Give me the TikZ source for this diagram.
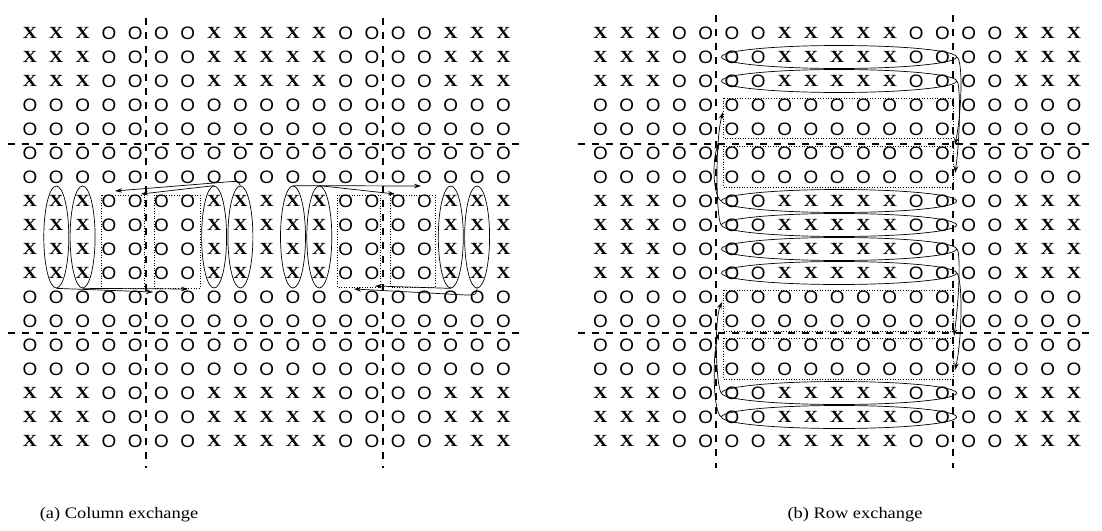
\documentclass[tikz,border=0pt]{standalone}
\usepackage{fontspec}
\usepackage{graphicx}
\setmainfont{Liberation Serif}
\newfontfamily\osans{Liberation Sans}
\usetikzlibrary{shapes.geometric,arrows.meta}
\newcommand{\sxx}[1]{\scalebox{1.15}[1]{#1}}
\newcommand{\soo}[1]{\scalebox{1.05}[1]{#1}}
\begin{document}
\begin{tikzpicture}[x=1pt,y=-1pt,
  cell/.style={inner sep=0pt,font=\fontsize{17}{17}\selectfont},
  ocell/.style={inner sep=0pt,font=\osans\fontsize{18}{18}\selectfont},
  divider/.style={line width=1.6pt,dash pattern=on 7pt off 7pt},
  slot/.style={line width=0.6pt,dotted},
  colring/.style={draw,ellipse,line width=0.7pt,minimum width=25pt,minimum height=102pt,inner sep=0pt},
  rowring/.style={draw,ellipse,line width=0.7pt,minimum width=235pt,minimum height=23pt,inner sep=0pt},
  move/.style={line width=0.7pt,-{Stealth[length=7pt,width=4.5pt]}},
  caption/.style={inner sep=0pt,font=\fontsize{16}{16}\selectfont}
]
\useasboundingbox (0,0) rectangle (1102,530);
\fill[white] (0,0) rectangle (1102,530);

% dividing dashed lines
\draw[divider] (146,18) -- (146,468);
\draw[divider] (383,18) -- (383,468);
\draw[divider] (8,144) -- (522,144);
\draw[divider] (8,333) -- (522,333);
\draw[divider] (716,15) -- (716,468);
\draw[divider] (953,15) -- (953,468);
\draw[divider] (578,144) -- (1095,144);
\draw[divider] (578,333) -- (1095,333);

% grids of X and O
\foreach \g/\off in {L/0,R/570.5}{
  \foreach \rr in {1,...,18}{
    \foreach \cc in {1,...,19}{
      \pgfmathtruncatemacro\isx{(((\rr<4)||(\rr>7&&\rr<12)||(\rr>15))&&((\cc<4)||(\cc>7&&\cc<13)||(\cc>16)))?1:0}
      \ifnum\isx=1
        \node[cell] (\g-\rr-\cc) at ({\off+30+(\cc-1)*26.3},{33+(\rr-1)*24}) {\sxx{\bfseries X}};
      \else
        \node[ocell] (\g-\rr-\cc) at ({\off+30+(\cc-1)*26.3},{33+(\rr-1)*24}) {\soo{O}};
      \fi
    }
  }
}

% dotted target boxes (a)
\draw[slot] (101,195) rectangle (144,288);
\draw[slot] (154,195) rectangle (200,288);
\draw[slot] (337,195) rectangle (380,287);
\draw[slot] (390,195) rectangle (435,287);
% dotted target boxes (b)
\draw[slot] (723,98) rectangle (953,138);
\draw[slot] (723,146) rectangle (953,187);
\draw[slot] (723,290) rectangle (953,331);
\draw[slot] (723,338) rectangle (953,379);

% column rings (a)
\foreach \cc in {2,3,8,9,11,12,17,18}{
  \node[colring] (ea\cc) at ({30+(\cc-1)*26.3},237) {};
}
% row rings (b)
\foreach \rr in {2,3,8,9,10,11,16,17}{
  \node[rowring] (eb\rr) at (839,{33+(\rr-1)*24}) {};
}

% arrow targets (a)
\coordinate (ta1) at (153,292);
\coordinate (ta2) at (188,289);
\coordinate (ta3) at (141,194);
\coordinate (ta4) at (115,191);
\coordinate (ta5) at (421,186);
\coordinate (ta6) at (395,194);
\coordinate (ta7) at (375,286);
\coordinate (ta8) at (354,289);
% arrow targets (b)
\coordinate (tb1) at (955,145);
\coordinate (tb2) at (955,173);
\coordinate (tb3) at (719,143);
\coordinate (tb4) at (723,112);
\coordinate (tb5) at (954,336);
\coordinate (tb6) at (955,370);
\coordinate (tb7) at (722,302);
\coordinate (tb8) at (719,333);

% arrows (a)
\draw[move] (ea2.south) -- (ta1);
\draw[move] (ea3.south) -- (ta2);
\draw[move] (ea8.north) -- (ta3);
\draw[move] (ea9.north) .. controls (238,181) .. (226,182) -- (ta4);
\draw[move] (ea11.north) -- (ta5);
\draw[move] (ea12.north) -- (ta6);
\draw[move] (ea17.south) -- (ta7);
\draw[move] (ea18.south) .. controls (476,295) .. (466,295) -- (ta8);

% arrows (b)
\draw[move] (eb2.east) .. controls (963,60) and (962,110) .. (tb1);
\draw[move] (eb3.east) .. controls (961,84) and (960,140) .. (tb2);
\draw[move] (eb8.west) .. controls (713,196) and (712,160) .. (tb3);
\draw[move] (eb9.west) .. controls (716,218) and (715,140) .. (tb4);
\draw[move] (eb10.east) .. controls (961,252) and (959,300) .. (tb5);
\draw[move] (eb11.east) .. controls (963,280) and (962,340) .. (tb6);
\draw[move] (eb16.west) .. controls (716,385) and (714,320) .. (tb7);
\draw[move] (eb17.west) .. controls (712,410) and (713,350) .. (tb8);

% captions
\node[caption] (capa) at (119,515) {\scalebox{1.15}[1]{(a) Column exchange}};
\node[caption] (capb) at (855,515) {\scalebox{1.15}[1]{(b) Row exchange}};
\end{tikzpicture}
\end{document}
